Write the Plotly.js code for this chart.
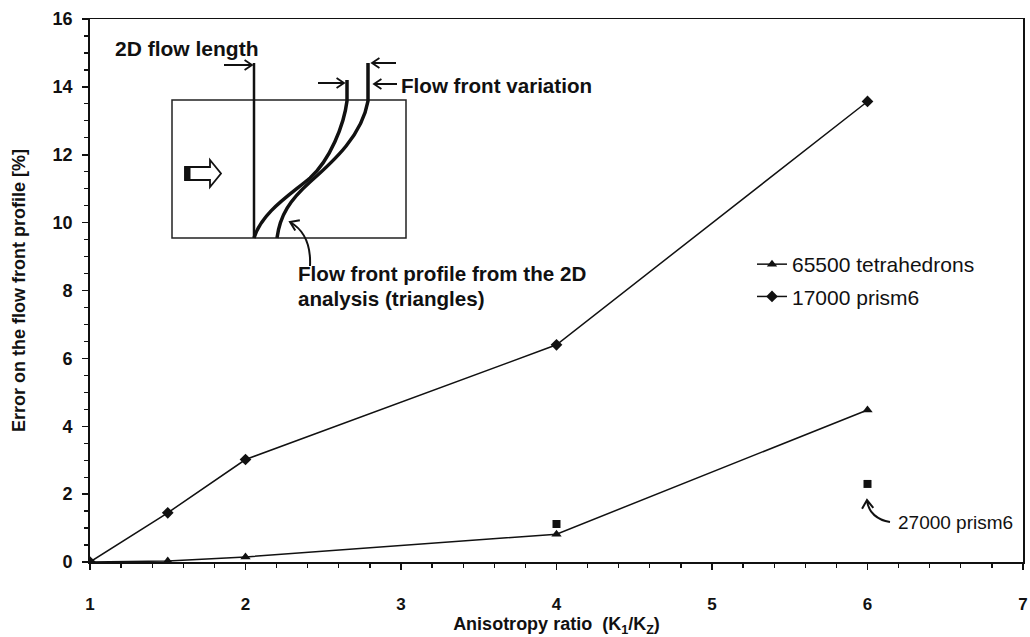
<!DOCTYPE html>
<html>
<head>
<meta charset="utf-8">
<script src="https://cdn.plot.ly/plotly-3.0.1.min.js"></script>
<style>html,body{margin:0;padding:0;background:#fff}#chart{width:1030px;height:637px}</style>
</head>
<body>
<div id="chart"></div>
<script>
// ---- data ----
const anisotropy = [1, 1.5, 2, 4, 6];
const tetra65500 = [0, 0.03, 0.15, 0.82, 4.48];
const prism17000 = [0, 1.45, 3.02, 6.4, 13.57];
const prism27000X = [4, 6];
const prism27000Y = [1.12, 2.3];
const xTickVals = [1, 2, 3, 4, 5, 6, 7];
const yTickVals = [0, 2, 4, 6, 8, 10, 12, 14, 16];
const seriesNames = ['65500 tetrahedrons', '17000 prism6'];

// ---- layout constants ----
const M = {l: 90, r: 7, t: 19, b: 75};
const W = 1030, H = 637;
const XR = [xTickVals[0], xTickVals[xTickVals.length - 1]];
const YR = [yTickVals[0], yTickVals[yTickVals.length - 1]];
const pw = W - M.l - M.r, ph = H - M.t - M.b;
// pixel -> data helpers (for inset drawing only)
const X = px => XR[0] + (px - M.l) / pw * (XR[1] - XR[0]);
const Y = py => YR[0] + (H - M.b - py) / ph * (YR[1] - YR[0]);
const P = (pts) => pts.map(p => p[0] + ' ' + X(p[1]) + ',' + Y(p[2])).join(' ');

const ink = '#111';
const FONT = 'Liberation Sans, Arial, sans-serif';

const traces = [
  {x: anisotropy, y: tetra65500, name: seriesNames[0], mode: 'lines+markers', legendgroup: 'a',
   line: {color: ink, width: 1.5}, marker: {symbol: 'triangle-up', size: 9, color: ink}},
  {x: anisotropy, y: prism17000, name: seriesNames[1], mode: 'lines+markers', legendgroup: 'b',
   line: {color: ink, width: 1.5}, marker: {symbol: 'diamond', size: 9, color: ink}},
  {x: prism27000X, y: prism27000Y, name: '27000 prism6', mode: 'markers', showlegend: false,
   marker: {symbol: 'square', size: 8, color: ink}}
];

// chevron arrow head at (hx,hy) pointing along direction (dx,dy), in pixels
function head(hx, hy, dx, dy, len) {
  const n = Math.hypot(dx, dy); const ux = dx / n, uy = dy / n;
  const a = 0.6; const c = Math.cos(a), s = Math.sin(a);
  const b1x = -(ux * c - uy * s) * len, b1y = -(ux * s + uy * c) * len;
  const b2x = -(ux * c + uy * s) * len, b2y = -(-ux * s + uy * c) * len;
  return P([['M', hx + b1x, hy + b1y], ['L', hx, hy], ['L', hx + b2x, hy + b2y]]);
}
function straightArrow(tx, ty, hx, hy) {
  return P([['M', tx, ty], ['L', hx, hy]]) + ' ' + head(hx, hy, hx - tx, hy - ty, 9);
}
const arrowLine = {color: ink, width: 1.8};

const shapes = [
  // inset box
  {type: 'rect', xref: 'x', yref: 'y', x0: X(172), x1: X(406), y0: Y(100), y1: Y(238),
   line: {color: '#222', width: 1.5}},
  // 2D flow length line
  {type: 'line', xref: 'x', yref: 'y', x0: X(254), x1: X(254), y0: Y(63), y1: Y(238),
   line: {color: ink, width: 2.5}},
  // curve 1
  {type: 'path', xref: 'x', yref: 'y',
   path: P([['M',254,238],['C',262,212],['',290,195],['',310,178],['C',330,160],['',344,125],['',347,101],['L',347,80]]),
   line: {color: ink, width: 3.5}},
  // curve 2
  {type: 'path', xref: 'x', yref: 'y',
   path: P([['M',277,238],['C',280,215],['',290,200],['',310,182],['C',335,160],['',362,135],['',368,101],['L',368,63]]),
   line: {color: ink, width: 3.5}},
  // block arrow
  {type: 'path', xref: 'x', yref: 'y',
   path: P([['M',185,167],['L',210,167],['L',210,160],['L',221,173.5],['L',210,187],['L',210,180],['L',185,180]]) + ' Z',
   line: {color: ink, width: 1.8}, fillcolor: '#fff'},
  {type: 'rect', xref: 'x', yref: 'y', x0: X(185), x1: X(190), y0: Y(167), y1: Y(180),
   line: {color: ink, width: 1}, fillcolor: ink},
  // straight arrows
  {type: 'path', xref: 'x', yref: 'y', path: straightArrow(224, 65, 252, 65), line: arrowLine},
  {type: 'path', xref: 'x', yref: 'y', path: straightArrow(318, 83, 344, 83), line: arrowLine},
  {type: 'path', xref: 'x', yref: 'y', path: straightArrow(396, 63, 372, 63), line: arrowLine},
  {type: 'path', xref: 'x', yref: 'y', path: straightArrow(397, 84, 374, 84), line: arrowLine},
  // curved pointer to curve 2
  {type: 'path', xref: 'x', yref: 'y',
   path: P([['M',310,266],['C',311,245],['',304,230],['',290,222]]) + ' ' + head(290, 222, -9, -4, 10),
   line: {color: ink, width: 2}},
  // curved pointer to 27000 prism6
  {type: 'path', xref: 'x', yref: 'y',
   path: P([['M',890,522],['C',878,520],['',868,513],['',867,500]]) + ' ' + head(867, 500, -0.5, -6, 10),
   line: {color: ink, width: 2}}
];

const boldF = (s) => ({family: FONT, size: s, color: ink, weight: 'bold'});

const annotations = [
  {xref: 'x', yref: 'y', x: X(113), y: Y(48), text: '2D flow length', showarrow: false,
   xanchor: 'left', yanchor: 'middle', font: boldF(21)},
  {xref: 'x', yref: 'y', x: X(399), y: Y(85), text: 'Flow front variation', showarrow: false,
   xanchor: 'left', yanchor: 'middle', font: boldF(20.6)},
  {xref: 'x', yref: 'y', x: X(296), y: Y(273), text: 'Flow front profile from the 2D', showarrow: false,
   xanchor: 'left', yanchor: 'middle', font: boldF(20.6)},
  {xref: 'x', yref: 'y', x: X(296), y: Y(298), text: 'analysis (triangles)', showarrow: false,
   xanchor: 'left', yanchor: 'middle', font: boldF(20.6)},
  {xref: 'x', yref: 'y', x: X(896), y: Y(522), text: '27000 prism6', showarrow: false,
   xanchor: 'left', yanchor: 'middle', font: {family: FONT, size: 19, color: ink}}
];

const layout = {
  width: W, height: H,
  margin: M,
  paper_bgcolor: '#fff', plot_bgcolor: '#fff',
  showlegend: true,
  legend: {x: (752 - M.l) / pw, y: (H - M.b - 244) / ph, xanchor: 'left', yanchor: 'top',
    bgcolor: 'rgba(0,0,0,0)', font: {family: FONT, size: 21, color: ink}, tracegroupgap: 2,
    itemwidth: 30},
  xaxis: {range: XR, tickmode: 'linear', tick0: xTickVals[0], dtick: xTickVals[1] - xTickVals[0],
    showgrid: false, zeroline: false,
    showline: true, mirror: true, linecolor: ink, linewidth: 1.5,
    ticks: 'outside', ticklen: 6, tickwidth: 1.5, tickcolor: ink, ticklabelstandoff: 20,
    minor: {nticks: 5, ticks: 'outside', ticklen: 4, tickwidth: 1.3, tickcolor: ink, showgrid: false},
    tickfont: boldF(17),
    title: {text: 'Anisotropy ratio  (K<sub>1</sub>/K<sub>Z</sub>)', font: boldF(18), standoff: 9}},
  yaxis: {range: YR, tickmode: 'linear', tick0: yTickVals[0], dtick: yTickVals[1] - yTickVals[0],
    showgrid: false, zeroline: false,
    showline: true, mirror: true, linecolor: ink, linewidth: 1.8,
    ticks: 'outside', ticklen: 6, tickwidth: 1.5, tickcolor: ink, ticklabelstandoff: 6,
    minor: {nticks: 5, ticks: 'outside', ticklen: 4, tickwidth: 1.3, tickcolor: ink, showgrid: false},
    tickfont: boldF(18),
    title: {text: 'Error on the flow front profile [%]', font: boldF(18), standoff: 22}},
  shapes: shapes,
  annotations: annotations
};

Plotly.newPlot('chart', traces, layout, {staticPlot: true, displayModeBar: false});
</script>
</body>
</html>
